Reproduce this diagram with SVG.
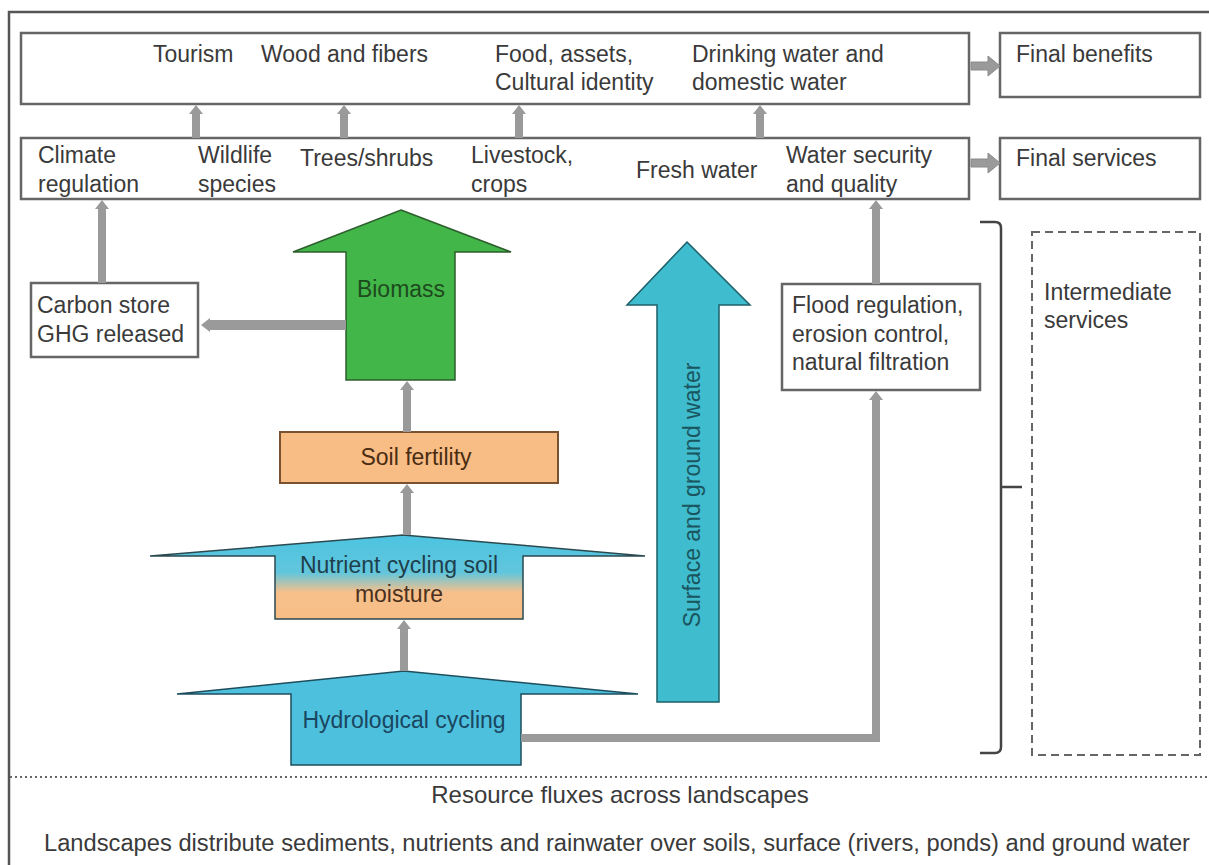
<svg xmlns="http://www.w3.org/2000/svg" width="1209" height="865" viewBox="0 0 1209 865">
<style>
text{font-family:"Liberation Sans",Arial,Helvetica,sans-serif;font-size:23px;fill:#3a3a3a}
.box{fill:#fff;stroke:#666;stroke-width:2.5}
.con{fill:none;stroke:#9a9a9a;stroke-width:8}
.fat{fill:#9a9a9a;stroke:#8a8a8a;stroke-width:1}
.mid{text-anchor:middle}
</style>
<defs>
<marker id="ah" markerUnits="userSpaceOnUse" markerWidth="9" markerHeight="14" refX="0" refY="7" orient="auto" viewBox="0 0 9 14">
<path d="M0,0 L9,7 L0,14 z" fill="#9a9a9a"/>
</marker>
<linearGradient id="nut" x1="0" y1="0" x2="0" y2="1">
<stop offset="0" stop-color="#4cc3e1"/>
<stop offset="0.45" stop-color="#62c6dc"/>
<stop offset="0.68" stop-color="#f6c08c"/>
<stop offset="1" stop-color="#f8bd85"/>
</linearGradient>
</defs>
<rect width="1209" height="865" fill="#fff"/>
<rect x="9" y="12" width="1215" height="870" fill="none" stroke="#555" stroke-width="2.5"/>

<g id="benefits">
<rect class="box" x="21" y="33" width="948" height="71"/>
<text x="153" y="62">Tourism</text>
<text x="261" y="62">Wood and fibers</text>
<text x="495" y="62">Food, assets,</text>
<text x="495" y="90">Cultural identity</text>
<text x="692" y="62">Drinking water and</text>
<text x="692" y="90">domestic water</text>
</g>
<g id="services">
<rect class="box" x="21" y="138" width="948" height="61"/>
<text x="38" y="163">Climate</text>
<text x="38" y="192">regulation</text>
<text x="198" y="163">Wildlife</text>
<text x="198" y="192">species</text>
<text x="300" y="166">Trees/shrubs</text>
<text x="471" y="163">Livestock,</text>
<text x="471" y="192">crops</text>
<text x="636" y="178">Fresh water</text>
<text x="786" y="163">Water security</text>
<text x="786" y="192">and quality</text>
</g>
<g id="final-benefits">
<rect class="box" x="1000" y="33" width="200" height="64"/>
<text x="1016" y="62">Final benefits</text>
</g>
<g id="final-services">
<rect class="box" x="1000" y="138" width="200" height="61"/>
<text x="1016" y="166">Final services</text>
</g>
<g id="carbon">
<rect class="box" x="31" y="283" width="167" height="74"/>
<text x="37" y="313">Carbon store</text>
<text x="37" y="342">GHG released</text>
</g>
<g id="flood">
<rect class="box" x="782" y="284" width="198" height="106"/>
<text x="792" y="313">Flood regulation,</text>
<text x="792" y="342">erosion control,</text>
<text x="792" y="370">natural filtration</text>
</g>
<g id="intermediate">
<rect x="1032" y="232" width="168" height="523" fill="none" stroke="#666" stroke-width="2" stroke-dasharray="8 5"/>
<text x="1044" y="300">Intermediate</text>
<text x="1044" y="328">services</text>
</g>
<g id="biomass">
<polygon points="401,210 511,252 455,252 455,380 346,380 346,252 293,252" fill="#43b649" stroke="#2d5e2d" stroke-width="1.5"/>
<text class="mid" x="401" y="297" style="fill:#1d4a1d">Biomass</text>
</g>
<g id="soil">
<rect x="280" y="432" width="278" height="51" fill="#f8bd85" stroke="#7a5230" stroke-width="2"/>
<text class="mid" x="416" y="465" style="fill:#4a2c12">Soil fertility</text>
</g>
<g id="nutrient">
<polygon points="403,535 645,556 523,556 523,619 275,619 275,556 150,556" fill="url(#nut)" stroke="#2a4a50" stroke-width="1.5"/>
<text class="mid" x="399" y="573" style="fill:#1e3f4c">Nutrient cycling soil</text>
<text class="mid" x="399" y="602" style="fill:#4a3020">moisture</text>
</g>
<g id="hydro">
<polygon points="404,671 638,694 521,694 521,765 291,765 291,694 177,694" fill="#4dc0de" stroke="#1e4d5c" stroke-width="1.5"/>
<text class="mid" x="404" y="728" style="fill:#1a4660">Hydrological cycling</text>
</g>
<g id="surface">
<polygon points="687,242 750,305 719,305 719,702 657,702 657,305 627,305" fill="#3fbccd" stroke="#1d5f6a" stroke-width="1.5"/>
<text class="mid" transform="translate(700,495) rotate(-90)" x="0" y="0" style="fill:#1a5560">Surface and ground water</text>
</g>
<g id="bracket">
<path d="M980,222 H995 Q1001,222 1001,228 V747 Q1001,753 995,753 H980 M1001,487 H1022" fill="none" stroke="#444" stroke-width="2.5"/>
</g>
<g id="connectors">
<line class="con" x1="196" y1="138" x2="196" y2="114" marker-end="url(#ah)"/>
<line class="con" x1="344" y1="138" x2="344" y2="114" marker-end="url(#ah)"/>
<line class="con" x1="519" y1="138" x2="519" y2="114" marker-end="url(#ah)"/>
<line class="con" x1="760" y1="138" x2="760" y2="114" marker-end="url(#ah)"/>
<line class="con" x1="102" y1="283" x2="102" y2="209" marker-end="url(#ah)"/>
<line class="con" x1="876" y1="284" x2="876" y2="209" marker-end="url(#ah)"/>
<polyline class="con" points="521,738 876,738 876,400" marker-end="url(#ah)"/>
<line class="con" x1="346" y1="325" x2="210" y2="325" style="stroke-width:10" marker-end="url(#ah)"/>
<line class="con" x1="407" y1="432" x2="407" y2="390" marker-end="url(#ah)"/>
<line class="con" x1="407" y1="535" x2="407" y2="493" marker-end="url(#ah)"/>
<line class="con" x1="404" y1="671" x2="404" y2="629" marker-end="url(#ah)"/>
<polygon class="fat" points="971,62 988,62 988,56 1000,66 988,76 988,70 971,70"/>
<polygon class="fat" points="971,159 988,159 988,153 1000,163 988,173 988,167 971,167"/>
</g>
<line x1="10" y1="777" x2="1209" y2="777" stroke="#666" stroke-width="2" stroke-dasharray="2 3"/>
<g id="footer">
<text class="mid" x="620" y="803" style="font-size:24px">Resource fluxes across landscapes</text>
<text class="mid" x="617" y="851" textLength="1146" lengthAdjust="spacingAndGlyphs">Landscapes distribute sediments, nutrients and rainwater over soils, surface (rivers, ponds) and ground water</text>
</g>
</svg>
